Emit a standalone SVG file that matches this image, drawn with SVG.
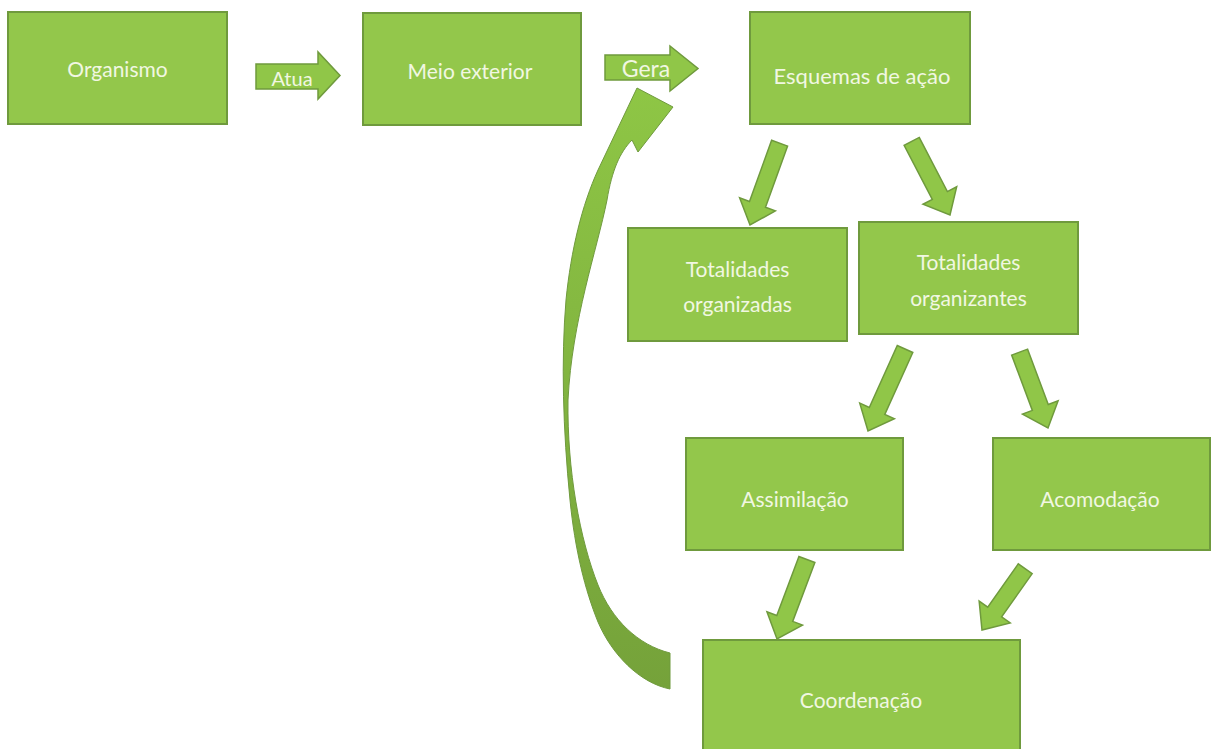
<svg xmlns="http://www.w3.org/2000/svg" width="1211" height="749" viewBox="0 0 1211 749">
  <defs>
    <style>
      .box { fill: #93c74b; stroke: #6f9a3d; stroke-width: 2; }
      .arr { fill: #90c648; stroke: #6f9a3d; stroke-width: 1.5; stroke-linejoin: miter; }
      .t { font-family: Lato, "Noto Sans", "DejaVu Sans", sans-serif; font-size: 21px; fill: #f1f7e2; text-anchor: middle; }
    </style>
    <linearGradient id="curveGrad" x1="0" y1="0" x2="0" y2="1">
      <stop offset="0" stop-color="#8ec645"/>
      <stop offset="1" stop-color="#75a23a"/>
    </linearGradient>
  </defs>

  <rect width="1211" height="749" fill="#ffffff"/>

  <g id="connectors">
    <g id="arrow-atua">
      <polygon class="arr" points="256,64 318,64 318,52 340,75.5 318,99 318,89 256,89"/>
      <text class="t" x="292" y="86" style="font-size:20px">Atua</text>
    </g>
    <g id="arrow-gera">
      <polygon class="arr" points="605,55 670,55 670,46 698,68.5 670,91 670,80 605,80"/>
      <text class="t" x="646" y="77" style="font-size:23px">Gera</text>
    </g>
    <path id="arrow-feedback" fill="url(#curveGrad)" stroke="#6f9a3d" stroke-width="1"
      d="M670,689 C640,683 612,655 598,622 C585,590 575,550 570,500 C563,430 561,360 566,300 C571,250 582,205 598,170 L637,88 L673,107 L638,152 L632,140 C620,152 612,170 607,200 C597,250 572,320 568,400 C567,470 580,540 598,585 C612,620 638,645 670,653 Z"/>
    <polygon class="arr" transform="translate(750,225) rotate(109.9)" points="-87,-8.5 -22,-8.5 -22,-19 0,0 -22,19 -22,8.5 -87,8.5"/>
    <polygon class="arr" transform="translate(950,215) rotate(62.5)" points="-83,-8.5 -22,-8.5 -22,-19 0,0 -22,19 -22,8.5 -83,8.5"/>
    <polygon class="arr" transform="translate(868,431) rotate(114.3)" points="-90,-8.5 -22,-8.5 -22,-19 0,0 -22,19 -22,8.5 -90,8.5"/>
    <polygon class="arr" transform="translate(1048,428) rotate(69.5)" points="-81,-8.5 -22,-8.5 -22,-19 0,0 -22,19 -22,8.5 -81,8.5"/>
    <polygon class="arr" transform="translate(777,639) rotate(110.6)" points="-85,-8.5 -22,-8.5 -22,-19 0,0 -22,19 -22,8.5 -85,8.5"/>
    <polygon class="arr" transform="translate(982,630) rotate(125.2)" points="-75,-8.5 -22,-8.5 -22,-19 0,0 -22,19 -22,8.5 -75,8.5"/>
  </g>

  <g id="organismo">
    <rect class="box" x="8" y="12" width="219" height="112"/>
    <text class="t" x="117.5" y="77">Organismo</text>
  </g>
  <g id="meio-exterior">
    <rect class="box" x="363" y="13" width="218" height="112"/>
    <text class="t" x="470" y="79">Meio exterior</text>
  </g>
  <g id="esquemas">
    <rect class="box" x="750" y="12" width="220" height="112"/>
    <text class="t" x="862" y="84" style="font-size:22px">Esquemas de ação</text>
  </g>
  <g id="totalidades-organizadas">
    <rect class="box" x="628" y="228" width="219" height="113"/>
    <text class="t" x="737.5" y="277">Totalidades</text>
    <text class="t" x="737.5" y="312">organizadas</text>
  </g>
  <g id="totalidades-organizantes">
    <rect class="box" x="859" y="222" width="219" height="112"/>
    <text class="t" x="968.5" y="270">Totalidades</text>
    <text class="t" x="968.5" y="306">organizantes</text>
  </g>
  <g id="assimilacao">
    <rect class="box" x="686" y="438" width="217" height="112"/>
    <text class="t" x="795" y="507">Assimilação</text>
  </g>
  <g id="acomodacao">
    <rect class="box" x="993" y="438" width="217" height="112"/>
    <text class="t" x="1100" y="507">Acomodação</text>
  </g>
  <g id="coordenacao">
    <rect class="box" x="703" y="640" width="317" height="115"/>
    <text class="t" x="861" y="708">Coordenação</text>
  </g>
</svg>
